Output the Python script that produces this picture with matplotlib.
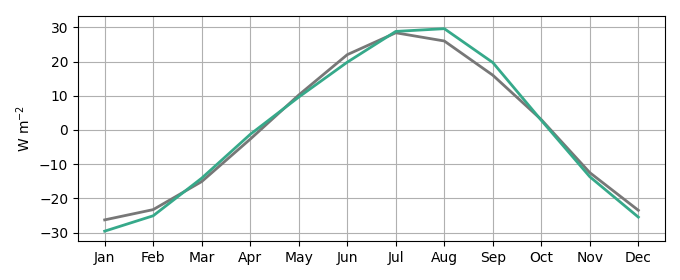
import numpy as np
import matplotlib.pyplot as plt

months = ["Jan", "Feb", "Mar", "Apr", "May", "Jun",
          "Jul", "Aug", "Sep", "Oct", "Nov", "Dec"]

# two monthly series (W m-2)
grey_vals = [-26.3, -23.3, -15.1, -2.7, 10.2, 22.0,
             28.4, 26.0, 16.0, 3.0, -12.5, -23.5]
green_vals = [-29.6, -25.1, -14.1, -1.3, 9.6, 19.8,
              28.8, 29.6, 19.7, 2.8, -13.7, -25.5]


def main():
    fig = plt.figure(figsize=(6.8, 2.8), dpi=100)
    ax = fig.add_axes([0.1147, 0.139, 0.8633, 0.805])

    x = np.arange(len(months))
    ax.plot(x, grey_vals, color="#777777", lw=2)
    ax.plot(x, green_vals, color="#36a98a", lw=2)

    ax.set_xticks(x)
    ax.set_xticklabels(months)
    ax.set_yticks([-30, -20, -10, 0, 10, 20, 30])
    ax.set_ylim(-32.5, 33.4)
    ax.set_ylabel("W m$^{-2}$")
    ax.grid(True, color="#b0b0b0")
    ax.set_axisbelow(True)

    fig.savefig("out.png", dpi=100)
    plt.close(fig)


if __name__ == "__main__":
    main()
